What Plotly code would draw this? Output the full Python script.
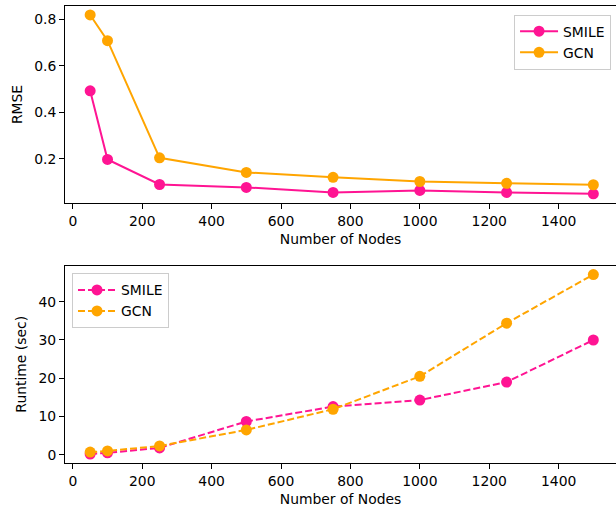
import plotly.graph_objects as go

nodes = [50, 100, 250, 500, 750, 1000, 1250, 1500]
smile_rmse = [0.493, 0.197, 0.089, 0.0765, 0.055, 0.0636, 0.055, 0.049]
gcn_rmse = [0.82, 0.709, 0.204, 0.141, 0.12, 0.102, 0.094, 0.088]
smile_runtime = [0.2, 0.5, 1.8, 8.7, 12.6, 14.3, 19.0, 30.0]
gcn_runtime = [0.7, 1.0, 2.3, 6.5, 11.9, 20.5, 34.4, 47.1]
x_ticks = [0, 200, 400, 600, 800, 1000, 1200, 1400]

PINK = "#FF1493"
ORANGE = "#FFA500"
FONT = "DejaVu Sans"
FS = 13.9

fig = go.Figure()
fig.add_trace(go.Scatter(x=nodes, y=smile_rmse, name="SMILE", mode="lines+markers",
                         line=dict(color=PINK, width=2), marker=dict(size=11, color=PINK),
                         xaxis="x", yaxis="y", legend="legend"))
fig.add_trace(go.Scatter(x=nodes, y=gcn_rmse, name="GCN", mode="lines+markers",
                         line=dict(color=ORANGE, width=2), marker=dict(size=11, color=ORANGE),
                         xaxis="x", yaxis="y", legend="legend"))
fig.add_trace(go.Scatter(x=nodes, y=smile_runtime, name="SMILE", mode="lines+markers",
                         line=dict(color=PINK, width=2, dash="7px,3px"), marker=dict(size=11, color=PINK),
                         xaxis="x2", yaxis="y2", legend="legend2"))
fig.add_trace(go.Scatter(x=nodes, y=gcn_runtime, name="GCN", mode="lines+markers",
                         line=dict(color=ORANGE, width=2, dash="7px,3px"), marker=dict(size=11, color=ORANGE),
                         xaxis="x2", yaxis="y2", legend="legend2"))

axis_common = dict(showline=True, linecolor="black", linewidth=1, mirror=True,
                   ticks="outside", ticklen=5, tickcolor="black", showgrid=False,
                   zeroline=False, tickfont=dict(family=FONT, size=FS, color="black"),
                   title_font=dict(family=FONT, size=FS, color="black"))

legend_common = dict(bgcolor="rgba(255,255,255,0.8)", bordercolor="#cccccc", borderwidth=1,
                     itemwidth=38, font=dict(family=FONT, size=FS, color="black"))

fig.update_layout(
    width=616, height=508,
    paper_bgcolor="white", plot_bgcolor="white",
    margin=dict(l=65, r=0, t=6, b=45),
    showlegend=True,
    xaxis=dict(axis_common, domain=[0, 1], anchor="y", range=[-22.5, 1565.3],
               tickvals=x_ticks, title=dict(text="Number of Nodes", standoff=6)),
    yaxis=dict(axis_common, domain=[0.569, 1.0], anchor="x", range=[0.0094, 0.8586],
               tickvals=[0.2, 0.4, 0.6, 0.8], tickformat=".1f",
               title=dict(text="RMSE", standoff=8)),
    xaxis2=dict(axis_common, domain=[0, 1], anchor="y2", range=[-22.5, 1565.3],
                tickvals=x_ticks, title=dict(text="Number of Nodes", standoff=6)),
    yaxis2=dict(axis_common, domain=[0, 0.432], anchor="x2", range=[-2.15, 49.45],
                tickvals=[0, 10, 20, 30, 40],
                title=dict(text="Runtime (sec)", standoff=8)),
    legend=dict(legend_common, x=0.991, y=0.981, xanchor="right", yanchor="top"),
    legend2=dict(legend_common, x=0.0127, y=0.415, xanchor="left", yanchor="top"),
)

fig.write_html("out.html", config={"displayModeBar": False},
               post_script="document.body.style.margin='0';")
